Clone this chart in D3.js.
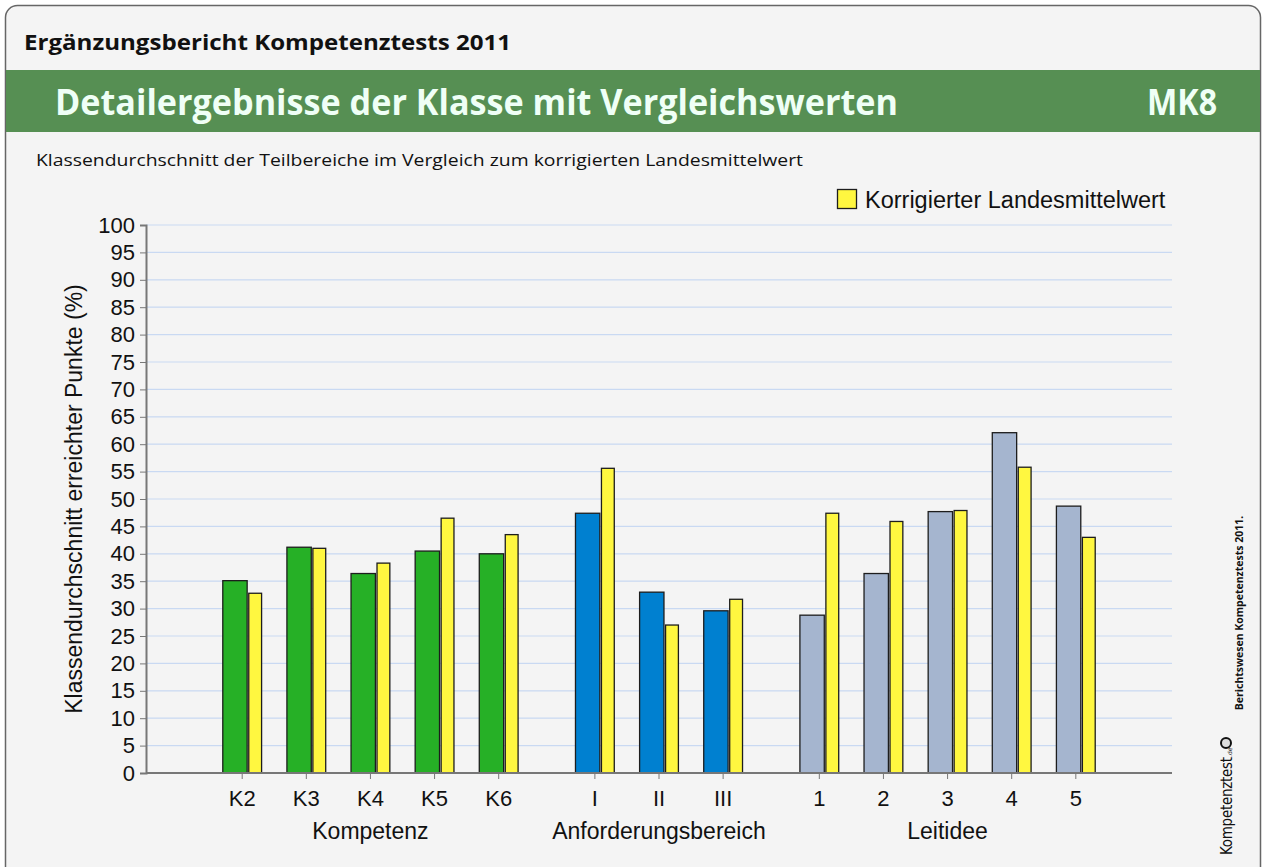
<!DOCTYPE html>
<html>
<head>
<meta charset="utf-8">
<script src="https://cdn.jsdelivr.net/npm/d3@7"></script>
<style>
  html, body { margin: 0; padding: 0; background: #ffffff; }
  svg { display: block; }
</style>
</head>
<body>
<div id="chart"></div>
<script>
// data
const groups = ['Kompetenz', 'Anforderungsbereich', 'Leitidee'];
const categories = [
  ['K2', 'K3', 'K4', 'K5', 'K6'],
  ['I', 'II', 'III'],
  ['1', '2', '3', '4', '5']
];
const klasse = [
  [35.1, 41.2, 36.4, 40.5, 40.0],
  [47.4, 33.0, 29.6],
  [28.8, 36.4, 47.7, 62.1, 48.7]
];
const landesmittel = [
  [32.8, 41.0, 38.3, 46.5, 43.5],
  [55.6, 27.0, 31.7],
  [47.4, 45.9, 47.9, 55.8, 43.0]
];
const groupColors = ['#26b026', '#0080d0', '#a5b5cf'];
const yTicks = d3.range(0, 101, 5);

const W = 1266, H = 867;
const margin = { top: 225, right: 94, bottom: 94, left: 146 };

const headFont = '"Open Sans", "Noto Sans", sans-serif';
const chartFont = '"Liberation Sans", Arial, sans-serif';

const svg = d3.select('#chart')
  .append('svg')
  .attr('width', W)
  .attr('height', H);

// page frame
svg.append('rect')
  .attr('x', 5.5).attr('y', 5.5)
  .attr('width', W - 11).attr('height', H + 20)
  .attr('rx', 12)
  .attr('fill', '#f4f4f4')
  .attr('stroke', '#666')
  .attr('stroke-width', 1.5);

svg.append('text')
  .attr('x', 24).attr('y', 50)
  .attr('font-family', headFont)
  .attr('font-size', '22px')
  .attr('font-weight', 'bold')
  .attr('fill', '#111')
  .attr('textLength', 487)
  .attr('lengthAdjust', 'spacingAndGlyphs')
  .text('Ergänzungsbericht Kompetenztests 2011');

svg.append('rect')
  .attr('x', 6).attr('y', 70)
  .attr('width', W - 12).attr('height', 62)
  .attr('fill', '#568f53');

svg.append('text')
  .attr('x', 55).attr('y', 115)
  .attr('font-family', headFont)
  .attr('font-size', '36px')
  .attr('font-weight', 'bold')
  .attr('fill', '#effff6')
  .attr('textLength', 843)
  .attr('lengthAdjust', 'spacingAndGlyphs')
  .text('Detailergebnisse der Klasse mit Vergleichswerten');

svg.append('text')
  .attr('x', 1147).attr('y', 115)
  .attr('font-family', headFont)
  .attr('font-size', '36px')
  .attr('font-weight', 'bold')
  .attr('fill', '#effff6')
  .attr('textLength', 70)
  .attr('lengthAdjust', 'spacingAndGlyphs')
  .text('MK8');

svg.append('text')
  .attr('x', 36).attr('y', 166)
  .attr('font-family', headFont)
  .attr('font-size', '17px')
  .attr('fill', '#111')
  .attr('textLength', 767)
  .attr('lengthAdjust', 'spacingAndGlyphs')
  .text('Klassendurchschnitt der Teilbereiche im Vergleich zum korrigierten Landesmittelwert');

// slot positions: 1.5 slots outer/between groups, 1 slot between categories
const slots = [];
let pos = 1.5;
categories.forEach((cats, g) => {
  cats.forEach((c, i) => {
    slots.push({ g, i, cat: c, pos, k: klasse[g][i], l: landesmittel[g][i] });
    pos += 1;
  });
  pos += 0.5;
});
const totalSlots = pos;

const x = d3.scaleLinear()
  .domain([0, totalSlots])
  .range([margin.left, W - margin.right]);

const y = d3.scaleLinear()
  .domain([0, 100])
  .range([H - margin.bottom, margin.top]);

const slotW = x(1) - x(0);
const mainW = slotW * 0.38;
const cmpW = slotW * 0.2;
const barGap = slotW * 0.025;
const halfSpan = (mainW + barGap + cmpW) / 2;

// gridlines
svg.append('g')
  .selectAll('line')
  .data(yTicks.filter(d => d > 0))
  .enter()
  .append('line')
  .attr('x1', x(0)).attr('x2', x(totalSlots))
  .attr('y1', d => y(d)).attr('y2', d => y(d))
  .attr('stroke', '#c9d9f2')
  .attr('stroke-width', 1.2);

// y axis
const yAxis = svg.append('g')
  .attr('transform', `translate(${x(0)},0)`)
  .call(d3.axisLeft(y).tickValues(yTicks).tickSize(6).tickPadding(5));
yAxis.select('.domain').attr('stroke', '#777').attr('stroke-width', 2);
yAxis.selectAll('.tick line').attr('stroke', '#777');
yAxis.selectAll('.tick text')
  .attr('font-family', chartFont)
  .attr('font-size', '22px')
  .attr('fill', '#111');

svg.append('text')
  .attr('transform', `translate(82, ${y(50)}) rotate(-90)`)
  .attr('text-anchor', 'middle')
  .attr('font-family', chartFont)
  .attr('font-size', '23px')
  .attr('fill', '#111')
  .text('Klassendurchschnitt erreichter Punkte (%)');

// bars
const bars = svg.append('g')
  .selectAll('g')
  .data(slots)
  .enter()
  .append('g');

bars.append('rect')
  .attr('x', d => x(d.pos) - halfSpan)
  .attr('y', d => y(d.k))
  .attr('width', mainW)
  .attr('height', d => y(0) - y(d.k))
  .attr('fill', d => groupColors[d.g])
  .attr('stroke', '#1d1d1d')
  .attr('stroke-width', 1.3);

bars.append('rect')
  .attr('x', d => x(d.pos) - halfSpan + mainW + barGap)
  .attr('y', d => y(d.l))
  .attr('width', cmpW)
  .attr('height', d => y(0) - y(d.l))
  .attr('fill', '#fff740')
  .attr('stroke', '#1d1d1d')
  .attr('stroke-width', 1.3);

// x axis
svg.append('line')
  .attr('x1', x(0)).attr('x2', x(totalSlots))
  .attr('y1', y(0)).attr('y2', y(0))
  .attr('stroke', '#777')
  .attr('stroke-width', 2);

const xt = svg.append('g')
  .selectAll('g')
  .data(slots)
  .enter()
  .append('g')
  .attr('transform', d => `translate(${x(d.pos)},${y(0)})`);
xt.append('line').attr('y2', 6).attr('stroke', '#777');
xt.append('text')
  .attr('y', 33)
  .attr('text-anchor', 'middle')
  .attr('font-family', chartFont)
  .attr('font-size', '22px')
  .attr('fill', '#111')
  .text(d => d.cat);

svg.append('g')
  .selectAll('text')
  .data(groups)
  .enter()
  .append('text')
  .attr('x', (d, g) => {
    const s = slots.filter(o => o.g === g);
    return x((s[0].pos + s[s.length - 1].pos) / 2);
  })
  .attr('y', y(0) + 66)
  .attr('text-anchor', 'middle')
  .attr('font-family', chartFont)
  .attr('font-size', '23px')
  .attr('fill', '#111')
  .text(d => d);

// legend
svg.append('rect')
  .attr('x', 837.5).attr('y', 189.5)
  .attr('width', 19).attr('height', 19)
  .attr('fill', '#fff740')
  .attr('stroke', '#1d1d1d')
  .attr('stroke-width', 1.3);
svg.append('text')
  .attr('x', 865).attr('y', 208)
  .attr('font-family', chartFont)
  .attr('font-size', '23.5px')
  .attr('fill', '#111')
  .text('Korrigierter Landesmittelwert');

// side credits
svg.append('text')
  .attr('transform', 'translate(1243, 613) rotate(-90)')
  .attr('text-anchor', 'middle')
  .attr('font-family', headFont)
  .attr('font-size', '10.5px')
  .attr('font-weight', 'bold')
  .attr('fill', '#111')
  .text('Berichtswesen Kompetenztests 2011.');

svg.append('text')
  .attr('transform', 'translate(1232, 855) rotate(-90)')
  .attr('font-family', '"DejaVu Sans Condensed", "Liberation Sans Narrow", sans-serif')
  .attr('font-size', '15px')
  .attr('fill', '#111')
  .attr('textLength', 98)
  .text('Kompetenztest');
svg.append('text')
  .attr('transform', 'translate(1232, 757) rotate(-90)')
  .attr('font-family', '"DejaVu Sans", sans-serif')
  .attr('font-size', '6px')
  .attr('fill', '#111')
  .text('.de');
svg.append('circle')
  .attr('cx', 1226).attr('cy', 743)
  .attr('r', 5)
  .attr('fill', '#ddd')
  .attr('stroke', '#111')
  .attr('stroke-width', 2);
</script>
</body>
</html>
